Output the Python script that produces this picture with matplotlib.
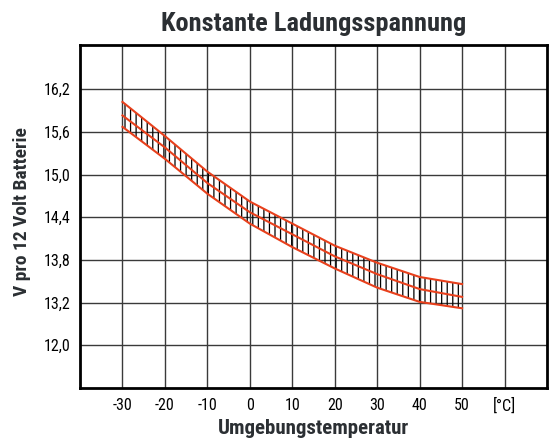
import matplotlib
matplotlib.use('Agg')
import matplotlib.pyplot as plt

plt.rcParams['font.family'] = ['Roboto Condensed', 'DejaVu Sans']
plt.rcParams['hatch.linewidth'] = 0.9
plt.rcParams['hatch.color'] = 'black'

# Data
temps = [-30, -20, -10, 0, 10, 20, 30, 40, 50]
upper = [16.02, 15.54, 15.04, 14.62, 14.31, 14.00, 13.76, 13.56, 13.46]
middle = [15.83, 15.38, 14.88, 14.47, 14.16, 13.85, 13.60, 13.39, 13.28]
lower = [15.67, 15.22, 14.73, 14.31, 13.98, 13.68, 13.41, 13.21, 13.12]

x_ticks = [-30, -20, -10, 0, 10, 20, 30, 40, 50, 60]
x_labels = ['-30', '-20', '-10', '0', '10', '20', '30', '40', '50', '[°C]']
y_ticks = [12.6, 13.2, 13.8, 14.4, 15.0, 15.6, 16.2]
y_labels = ['12,0', '13,2', '13,8', '14,4', '15,0', '15,6', '16,2']

red = '#e8401c'
text_col = '#2b2f33'

fig = plt.figure(figsize=(5.5, 4.42), dpi=100)
ax = fig.add_axes([0.1455, 0.1222, 0.849, 0.776])

# hatched band between the limits
ax.fill_between(temps, lower, upper, facecolor='none', edgecolor='black',
                hatch='|||', linewidth=0, zorder=2)
for ys in (upper, middle, lower):
    ax.plot(temps, ys, color=red, linewidth=1.5, zorder=3)

ax.set_xlim(-40, 70)
ax.set_ylim(12.0, 16.82)
ax.set_xticks(x_ticks)
ax.set_xticklabels(x_labels)
ax.set_yticks(y_ticks)
ax.set_yticklabels(y_labels)
ax.tick_params(length=0, labelsize=11.5, pad=7)
ax.grid(True, color='#3a3a3a', linewidth=1.0, zorder=1)
ax.set_axisbelow(True)
for s in ax.spines.values():
    s.set_linewidth(2)
    s.set_color('black')

ax.set_title('Konstante Ladungsspannung', fontsize=19, fontweight='bold',
             color=text_col, pad=10)
ax.set_xlabel('Umgebungstemperatur', fontsize=15, fontweight='bold',
              color=text_col, labelpad=4)
ax.set_ylabel('V pro 12 Volt Batterie', fontsize=14, fontweight='bold',
              color=text_col, labelpad=9)
ax.yaxis.label.set_y(0.513)

fig.savefig('out.png', dpi=100)
